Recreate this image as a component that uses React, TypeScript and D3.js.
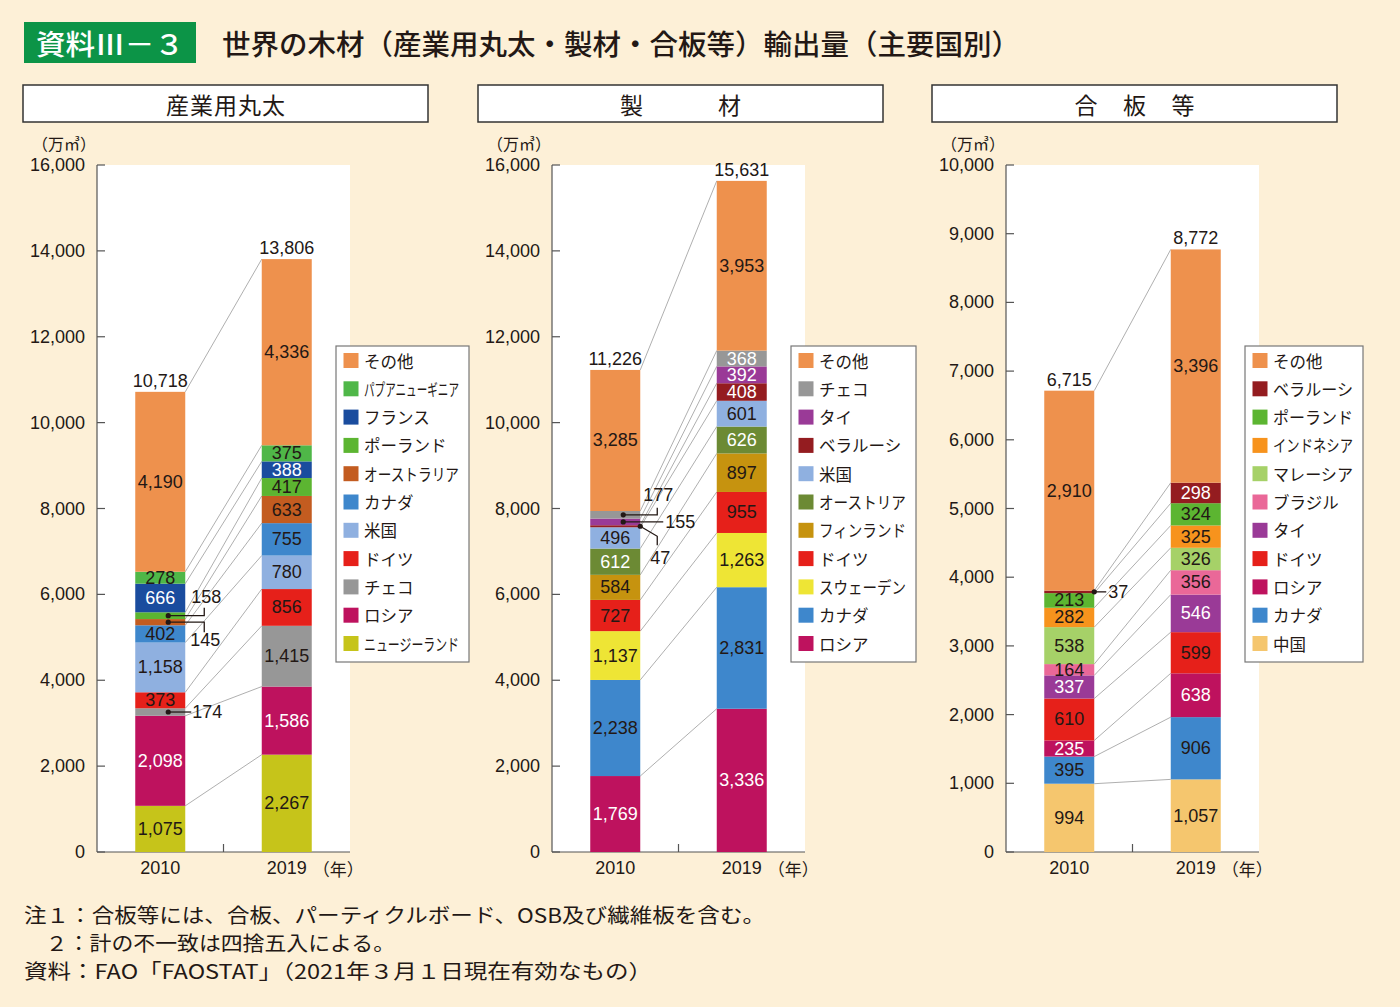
import * as d3 from "d3";

const years = ["2010", "2019"];

// 産業用丸太 (stack order bottom -> top)
const logSeries = ["ニュージーランド", "ロシア", "チェコ", "ドイツ", "米国", "カナダ", "オーストラリア", "ポーランド", "フランス", "パプアニューギニア", "その他"];
const log2010 = [1075, 2098, 174, 373, 1158, 402, 145, 158, 666, 278, 4190];
const log2019 = [2267, 1586, 1415, 856, 780, 755, 633, 417, 388, 375, 4336];
const logTotals = [10718, 13806];

// 製材
const lumberSeries = ["ロシア", "カナダ", "スウェーデン", "ドイツ", "フィンランド", "オーストリア", "米国", "ベラルーシ", "タイ", "チェコ", "その他"];
const lumber2010 = [1769, 2238, 1137, 727, 584, 612, 496, 47, 155, 177, 3285];
const lumber2019 = [3336, 2831, 1263, 955, 897, 626, 601, 408, 392, 368, 3953];
const lumberTotals = [11226, 15631];

// 合板等
const plySeries = ["中国", "カナダ", "ロシア", "ドイツ", "タイ", "ブラジル", "マレーシア", "インドネシア", "ポーランド", "ベラルーシ", "その他"];
const ply2010 = [994, 395, 235, 610, 337, 164, 538, 282, 213, 37, 2910];
const ply2019 = [1057, 906, 638, 599, 546, 356, 326, 325, 324, 298, 3396];
const plyTotals = [6715, 8772];

const notes = [
  "注１：合板等には、合板、パーティクルボード、OSB及び繊維板を含む。",
  "　２：計の不一致は四捨五入による。",
  "資料：FAO「FAOSTAT」（2021年３月１日現在有効なもの）",
];
const noteWidths = [741, 371, 628];

const colors: Record<string, string> = {
  その他: "#EE914D",
  パプアニューギニア: "#4FB748",
  フランス: "#1A4C9E",
  ポーランド: "#5CB531",
  オーストラリア: "#C35C20",
  カナダ: "#3E87CC",
  米国: "#8FB0E0",
  ドイツ: "#E6201A",
  チェコ: "#979797",
  ロシア: "#BE125E",
  ニュージーランド: "#C6C41A",
  タイ: "#9A3A97",
  ベラルーシ: "#941C20",
  オーストリア: "#6C8A34",
  フィンランド: "#C6930F",
  スウェーデン: "#EEE535",
  中国: "#F5C66E",
  ブラジル: "#EA6898",
  マレーシア: "#A6D168",
  インドネシア: "#F7931D",
};

const NUM = "'Liberation Sans', 'Noto Sans CJK JP', sans-serif";
const JP = "'Noto Sans CJK JP', sans-serif";
const TOP = 165;
const BOTTOM = 852;
const PW = 253;
const BAR = 50;
const LEGEND_FS = 16.5;
const fmt = d3.format(",");

type Callout = { name: string; dx: number; path: [number, number][]; label: [number, number]; anchor: string };

const panels = [
  {
    x0: 97, title: "産業用丸太", gap: 24, series: logSeries, values: [log2010, log2019], totals: logTotals,
    max: 16000, step: 2000, white: ["フランス", "ロシア"], legendW: 133,
    callouts: [
      { name: "ポーランド", dx: 8, path: [[0, 0], [36, 0], [36, -8]], label: [38, -19], anchor: "middle" },
      { name: "オーストラリア", dx: 8, path: [[0, 0], [36, 0], [36, 10]], label: [37, 18], anchor: "middle" },
      { name: "チェコ", dx: 8, path: [[0, 0], [23, 0]], label: [24, 0], anchor: "start" },
    ] as Callout[],
  },
  {
    x0: 552, title: "製材", gap: 98, series: lumberSeries, values: [lumber2010, lumber2019], totals: lumberTotals,
    max: 16000, step: 2000, white: ["オーストリア", "ロシア", "ベラルーシ", "タイ", "チェコ"], legendW: 125,
    callouts: [
      { name: "チェコ", dx: 8, path: [[0, 0], [34, 0], [34, -7]], label: [35, -20], anchor: "middle" },
      { name: "タイ", dx: 8, path: [[0, 0], [40, 0]], label: [42, 0], anchor: "start" },
      { name: "ベラルーシ", dx: 25, path: [[0, 0], [17, 10], [17, 19]], label: [20, 32], anchor: "middle" },
    ] as Callout[],
  },
  {
    x0: 1006, title: "合板等", gap: 48.5, series: plySeries, values: [ply2010, ply2019], totals: plyTotals,
    max: 10000, step: 1000, white: ["ベラルーシ", "タイ", "ロシア"], legendW: 118,
    callouts: [
      { name: "ベラルーシ", dx: 25, path: [[0, 0], [12, 0]], label: [14, 0], anchor: "start" },
    ] as Callout[],
  },
];

function Panel({ p }: { p: (typeof panels)[number] }) {
  const y = d3.scaleLinear().domain([0, p.max]).range([BOTTOM, TOP]);
  const x = d3.scaleBand<string>().domain(years).range([p.x0, p.x0 + PW]);
  const cx = (yr: string) => x(yr)! + x.bandwidth() / 2;
  const rows = years.map((yr, i) => {
    const r: any = { year: yr };
    p.series.forEach((s, j) => (r[s] = p.values[i][j]));
    return r;
  });
  const stacked = d3.stack<any>().keys(p.series)(rows);
  const ticks = d3.range(0, p.max + 1, p.step);
  const chars = p.title.split("");
  const hx = p.x0 - 74;
  const lx = p.x0 + 239;
  const line = d3.line();

  return (
    <g>
      {/* header box */}
      <rect x={hx} y={85} width={405} height={37} fill="#fff" stroke="#333" strokeWidth={1.5} />
      {chars.map((c, i) => (
        <text key={i} x={hx + 202.5 + (i - (chars.length - 1) / 2) * p.gap} y={104} textAnchor="middle"
          dominantBaseline="central" fontFamily={JP} fontSize={23} fill="#231815">{c}</text>
      ))}
      <text x={p.x0 - 65} y={143} fontFamily={JP} fontSize={16} fill="#231815" dominantBaseline="central">（万㎥）</text>

      <rect x={p.x0} y={TOP} width={PW} height={BOTTOM - TOP} fill="#fff" />
      {ticks.map((t) => (
        <g key={t}>
          <line x1={p.x0} x2={p.x0 + 8} y1={y(t)} y2={y(t)} stroke="#555" strokeWidth={1.2} />
          <text x={p.x0 - 12} y={y(t)} textAnchor="end" dominantBaseline="central" fontFamily={NUM} fontSize={18} fill="#231815">{fmt(t)}</text>
        </g>
      ))}
      <line x1={p.x0} x2={p.x0} y1={TOP} y2={BOTTOM} stroke="#555" strokeWidth={1.2} />
      <line x1={p.x0} x2={p.x0 + PW} y1={BOTTOM} y2={BOTTOM} stroke="#555" strokeWidth={1.2} />
      <line x1={x(years[1])} x2={x(years[1])} y1={BOTTOM} y2={BOTTOM - 8} stroke="#555" strokeWidth={1.2} />
      {years.map((yr) => (
        <text key={yr} x={cx(yr)} y={868} textAnchor="middle" dominantBaseline="central" fontFamily={NUM} fontSize={18} fill="#231815">{yr}</text>
      ))}
      <text x={cx(years[1]) + 26} y={868} dominantBaseline="central" fontFamily={JP} fontSize={17} fill="#231815">（年）</text>

      {/* connectors */}
      {stacked.map((layer) => (
        <line key={layer.key} x1={cx(years[0]) + BAR / 2} y1={y(layer[0][1])} x2={cx(years[1]) - BAR / 2} y2={y(layer[1][1])}
          stroke="#9a9a9a" strokeWidth={0.8} />
      ))}

      {/* bars */}
      {stacked.map((layer) =>
        layer.map((d, i) => (
          <rect key={layer.key + i} x={cx(years[i]) - BAR / 2} y={y(d[1])} width={BAR} height={y(d[0]) - y(d[1])} fill={colors[layer.key]} />
        ))
      )}

      {/* segment labels */}
      {stacked.map((layer) =>
        layer.map((d, i) => {
          if (i === 0 && p.callouts.some((c) => c.name === layer.key)) return null;
          return (
            <text key={layer.key + i} x={cx(years[i])} y={y((d[0] + d[1]) / 2)} textAnchor="middle" dominantBaseline="central"
              fontFamily={NUM} fontSize={18} fill={p.white.includes(layer.key) ? "#fff" : "#231815"}>
              {fmt(d[1] - d[0])}
            </text>
          );
        })
      )}

      {/* callouts for thin 2010 segments */}
      {p.callouts.map((c) => {
        const layer = stacked.find((l) => l.key === c.name)!;
        const d = layer[0];
        const px = cx(years[0]) + c.dx;
        const py = y((d[0] + d[1]) / 2);
        return (
          <g key={c.name}>
            <path d={line(c.path.map(([a, b]) => [px + a, py + b]))!} fill="none" stroke="#231815" strokeWidth={1.3} />
            <circle cx={px} cy={py} r={2.6} fill="#231815" />
            <text x={px + c.label[0]} y={py + c.label[1]} textAnchor={c.anchor} dominantBaseline="central" fontFamily={NUM} fontSize={18} fill="#231815">
              {fmt(d[1] - d[0])}
            </text>
          </g>
        );
      })}

      {/* totals */}
      {years.map((yr, i) => {
        const top = stacked[stacked.length - 1][i][1];
        return (
          <text key={yr} x={cx(yr)} y={y(top) - 5} textAnchor="middle" fontFamily={NUM} fontSize={18} fill="#231815">{fmt(p.totals[i])}</text>
        );
      })}

      {/* legend */}
      <rect x={lx} y={346} width={p.legendW} height={316} fill="#fff" stroke="#777" strokeWidth={1.2} />
      {[...p.series].reverse().map((s, i) => {
        const ry = 360.5 + i * 28.3;
        const maxW = p.legendW - 38;
        const long = s.length * LEGEND_FS > maxW;
        return (
          <g key={s}>
            <rect x={lx + 7.5} y={ry - 7.5} width={15} height={15} fill={colors[s]} />
            <text x={lx + 28} y={ry} dominantBaseline="central" fontFamily={JP} fontSize={LEGEND_FS} fill="#231815"
              {...(long ? { textLength: maxW, lengthAdjust: "spacingAndGlyphs" } : {})}>{s}</text>
          </g>
        );
      })}
    </g>
  );
}

export default function App() {
  return (
    <svg width={1400} height={1007} style={{ position: "absolute", left: 0, top: 0 }}>
      <rect width={1400} height={1007} fill="#FDF0D7" />
      <rect x={24} y={22} width={172} height={41} fill="#0C9447" />
      <text x={36} y={43} dominantBaseline="central" fontFamily={JP} fontWeight={500} fontSize={28} fill="#fff" textLength={148} lengthAdjust="spacingAndGlyphs">資料Ⅲ－３</text>
      <text x={222} y={43} dominantBaseline="central" fontFamily={JP} fontWeight={500} fontSize={28} fill="#231815" textLength={798} lengthAdjust="spacingAndGlyphs">
        世界の木材（産業用丸太・製材・合板等）輸出量（主要国別）
      </text>
      {panels.map((p) => (
        <Panel key={p.title} p={p} />
      ))}
      {notes.map((n, i) => (
        <text key={i} x={24} y={914 + i * 28} dominantBaseline="central" fontFamily={JP} fontSize={20} fill="#231815"
          textLength={noteWidths[i]} lengthAdjust="spacingAndGlyphs">{n}</text>
      ))}
    </svg>
  );
}
